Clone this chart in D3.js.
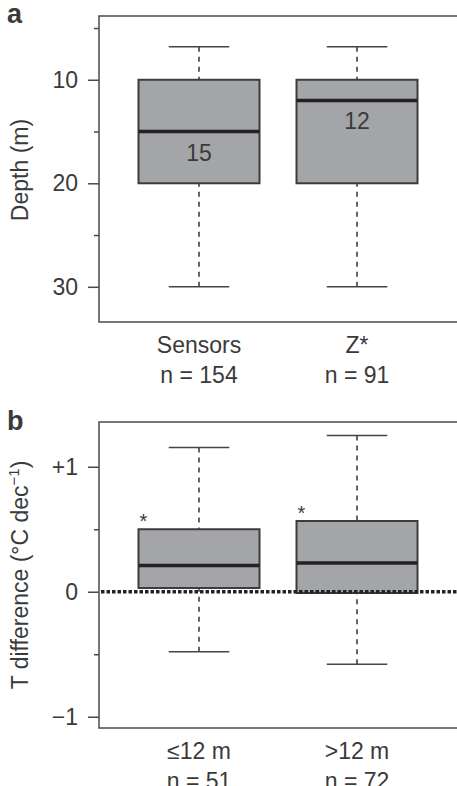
<!DOCTYPE html>
<html>
<head>
<meta charset="utf-8">
<script src="https://cdn.jsdelivr.net/npm/d3@7"></script>
<style>
  body { margin: 0; background: #fff; }
  text { font-family: "Liberation Sans", Arial, sans-serif; fill: #3a3a3a; }
</style>
</head>
<body>
<script>
// panel a: depth of sensors vs Z*
const depthCats = ["Sensors", "Z*"]
const depthN = ["n = 154", "n = 91"]
const depthLow = [6.8, 6.8]
const depthQ1 = [10, 10]
const depthMed = [15, 12]
const depthQ3 = [20, 20]
const depthHigh = [30, 30]
const depthTicks = [10, 20, 30]
const depthMinor = [5, 15, 25]

// panel b: temperature trend difference
const diffCats = ["\u226412 m", ">12 m"]
const diffN = ["n = 51", "n = 72"]
const diffLow = [-0.48, -0.58]
const diffQ1 = [0.03, -0.01]
const diffMed = [0.21, 0.23]
const diffQ3 = [0.5, 0.566]
const diffHigh = [1.155, 1.25]
const diffTicks = [1, 0, -1]
const diffTickLabels = ["+1", "0", "\u22121"]
const diffMinor = [0.5, -0.5]
const diffStars = ["*", "*"]

const width = 457, height = 786
const svg = d3.select("body").append("svg")
    .attr("width", width)
    .attr("height", height)

const plotLeft = 99, plotRight = 457
const boxW = 121

const x = d3.scalePoint()
    .domain([0, 1])
    .range([199, 357])

const drawPanel = (cfg) => {
    const g = svg.append("g")
    const y = d3.scaleLinear().domain(cfg.domain).range([cfg.top, cfg.bottom])
    const rows = cfg.cats.map((c, i) => ({
        i, cat: c, n: cfg.n[i], low: cfg.low[i], q1: cfg.q1[i], med: cfg.med[i], q3: cfg.q3[i], high: cfg.high[i]
    }))

    // frame
    g.append("rect")
        .attr("x", plotLeft).attr("y", cfg.top)
        .attr("width", plotRight - plotLeft + 2).attr("height", cfg.bottom - cfg.top)
        .attr("fill", "none").attr("stroke", "#4a4a4a").attr("stroke-width", 1.5)

    // y axis major
    const axis = d3.axisLeft(y).tickValues(cfg.ticks).tickSize(11).tickPadding(10)
        .tickFormat((d, i) => cfg.tickLabels ? cfg.tickLabels[i] : d)
    const ax = g.append("g").attr("transform", `translate(${plotLeft},0)`).call(axis)
    ax.select(".domain").remove()
    ax.selectAll("line").attr("stroke", "#4a4a4a").attr("stroke-width", 1.5)
    ax.selectAll("text").style("font-size", "23px").attr("fill", "#3a3a3a")
        .style("font-family", "'Liberation Sans', Arial, sans-serif")
    // minor ticks
    const axMinor = d3.axisLeft(y).tickValues(cfg.minor).tickSize(5).tickFormat("")
    const am = g.append("g").attr("transform", `translate(${plotLeft},0)`).call(axMinor)
    am.select(".domain").remove()
    am.selectAll("line").attr("stroke", "#4a4a4a").attr("stroke-width", 1.5)

    // whiskers
    g.selectAll(".wu").data(rows).join("line")
        .attr("x1", d => x(d.i)).attr("x2", d => x(d.i))
        .attr("y1", d => y(d.high)).attr("y2", d => y(Math.min(d.q1, d.q3)))
        .attr("stroke", "#333").attr("stroke-width", 1.5).attr("stroke-dasharray", "5 5")
    g.selectAll(".wl").data(rows).join("line")
        .attr("x1", d => x(d.i)).attr("x2", d => x(d.i))
        .attr("y1", d => y(d.low)).attr("y2", d => y(Math.max(d.q1, d.q3)))
        .attr("stroke", "#333").attr("stroke-width", 1.5).attr("stroke-dasharray", "5 5")
    ;["low", "high"].forEach(k => {
        g.selectAll(".cap-" + k).data(rows).join("line")
            .attr("x1", d => x(d.i) - boxW / 4).attr("x2", d => x(d.i) + boxW / 4)
            .attr("y1", d => y(d[k])).attr("y2", d => y(d[k]))
            .attr("stroke", "#444").attr("stroke-width", 1.5)
    })

    // boxes
    g.selectAll(".box").data(rows).join("rect")
        .attr("x", d => x(d.i) - boxW / 2)
        .attr("y", d => Math.min(y(d.q1), y(d.q3)))
        .attr("width", boxW)
        .attr("height", d => Math.abs(y(d.q3) - y(d.q1)))
        .attr("fill", "#a4a5a8").attr("stroke", "#3c3c3c").attr("stroke-width", 2)
    g.selectAll(".med").data(rows).join("line")
        .attr("x1", d => x(d.i) - boxW / 2).attr("x2", d => x(d.i) + boxW / 2)
        .attr("y1", d => y(d.med)).attr("y2", d => y(d.med))
        .attr("stroke", "#222").attr("stroke-width", 3.5)

    if (cfg.medLabels) {
        g.selectAll(".ml").data(rows).join("text")
            .attr("x", d => x(d.i)).attr("y", d => y(d.med) + 29)
            .attr("text-anchor", "middle").style("font-size", "23px").attr("fill", "#333")
            .text(d => d.med)
    }
    if (cfg.zeroLine) {
        g.append("line")
            .attr("x1", plotLeft + 2).attr("x2", plotRight)
            .attr("y1", y(0)).attr("y2", y(0))
            .attr("stroke", "#222").attr("stroke-width", 3.5).attr("stroke-dasharray", "3.5 2")
    }
    if (cfg.stars) {
        g.selectAll(".star").data(rows).join("text")
            .attr("x", d => x(d.i) - boxW / 2 + 5).attr("y", d => y(d.q3) - 1)
            .attr("text-anchor", "middle").style("font-size", "20px").attr("fill", "#222")
            .text((d, i) => cfg.stars[i])
    }

    // category labels
    g.selectAll(".cat").data(rows).join("text")
        .attr("x", d => x(d.i)).attr("y", cfg.bottom + 31)
        .attr("text-anchor", "middle").style("font-size", "23px")
        .text(d => d.cat)
    g.selectAll(".nn").data(rows).join("text")
        .attr("x", d => x(d.i)).attr("y", cfg.bottom + 61)
        .attr("text-anchor", "middle").style("font-size", "23px")
        .text(d => d.n)

    // panel letter
    g.append("text").attr("x", 7).attr("y", cfg.letterY)
        .style("font-size", "27px").style("font-weight", "bold").attr("fill", "#111")
        .text(cfg.letter)

    // y title
    const t = g.append("text")
        .attr("transform", `translate(28,${cfg.titleY}) rotate(-90)`)
        .attr("text-anchor", "middle").style("font-size", "23px")
    cfg.title(t)
}

drawPanel({
    top: 16, bottom: 322, domain: [3.84, 33.4],
    cats: depthCats, n: depthN, low: depthLow, q1: depthQ1, med: depthMed, q3: depthQ3, high: depthHigh,
    ticks: depthTicks, minor: depthMinor, medLabels: true,
    letter: "a", letterY: 23, titleY: 170,
    title: t => t.text("Depth (m)")
})

drawPanel({
    top: 422, bottom: 728, domain: [1.358, -1.09],
    cats: diffCats, n: diffN, low: diffLow, q1: diffQ1, med: diffMed, q3: diffQ3, high: diffHigh,
    ticks: diffTicks, tickLabels: diffTickLabels, minor: diffMinor, zeroLine: true, stars: diffStars,
    letter: "b", letterY: 430, titleY: 575,
    title: t => {
        t.append("tspan").text("T difference (\u00b0C dec")
        t.append("tspan").attr("dy", -9).style("font-size", "15px").text("\u22121")
        t.append("tspan").attr("dy", 9).text(")")
    }
})
</script>
</body>
</html>
